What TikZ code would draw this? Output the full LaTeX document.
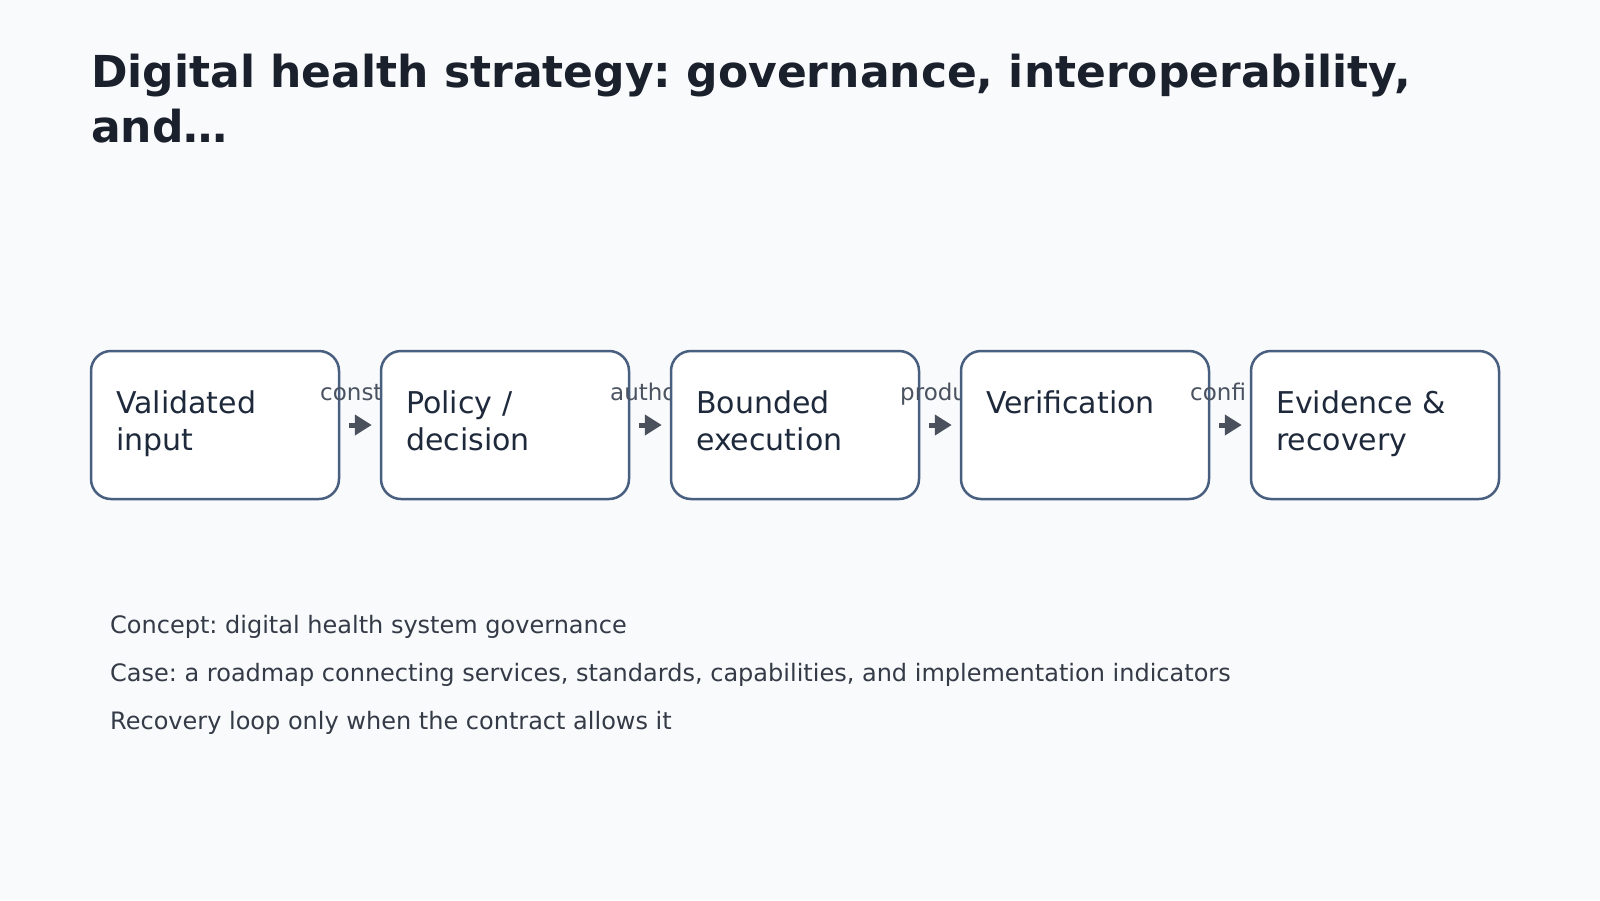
\documentclass[tikz,border=0pt]{standalone}
\usepackage{fontspec}
\setmainfont{DejaVu Sans}
\usetikzlibrary{arrows.meta}
\frenchspacing
\definecolor{bgc}{HTML}{F8FAFC}
\definecolor{titlec}{HTML}{1A202C}
\definecolor{boxline}{HTML}{485F7F}
\definecolor{boxtextc}{HTML}{1E293B}
\definecolor{lblc}{HTML}{4B5361}
\definecolor{arrowc}{HTML}{4A505C}
\definecolor{notec}{HTML}{343B47}
\tikzset{
  stage/.style={draw=boxline, line width=2.5pt, fill=white, rounded corners=20pt,
    minimum width=248pt, minimum height=148pt, inner sep=0pt},
  stagetext/.style={anchor=base west, inner sep=0pt, align=left, text=boxtextc,
    font=\fontsize{30}{37}\selectfont\frenchspacing},
  edgelbl/.style={anchor=base west, inner sep=0pt, text=lblc, font=\fontsize{23}{26}\selectfont},
  flow/.style={draw=arrowc, line width=5pt, -{Triangle[length=17pt,width=20pt]}},
  note/.style={anchor=base west, inner sep=0pt, text=notec, font=\fontsize{24}{28}\selectfont\frenchspacing},
}
\begin{document}
\begin{tikzpicture}[x=1pt,y=-1pt]
\fill[bgc] (0,0) rectangle (1600,900);
\useasboundingbox (0,0) rectangle (1600,900);

\node[anchor=base west, inner sep=0pt, align=left, text=titlec,
  font=\fontsize{44}{55}\selectfont\bfseries\frenchspacing] (title) at (91,142)
  {Digital health strategy: governance, interoperability,\\and…};

\node[stage] (b1) at (215,425) {};
\node[stagetext] (t1) at (116,450) {Validated\\input};
\node[edgelbl] (l1) at (320,400) {const};
\node[stage] (b2) at (505,425) {};
\node[stagetext] (t2) at (406,450) {Policy /\\decision};
\node[edgelbl] (l2) at (610,400) {autho};
\node[stage] (b3) at (795,425) {};
\node[stagetext] (t3) at (696,450) {Bounded\\execution};
\node[edgelbl] (l3) at (900,400) {produ};
\node[stage] (b4) at (1085,425) {};
\node[stagetext] (t4) at (986,413) {Verification};
\node[edgelbl] (l4) at (1190,400) {confi};
\node[stage] (b5) at (1375,425) {};
\node[stagetext] (t5) at (1276,450) {Evidence \&\\recovery};

\draw[flow] ([xshift=9pt]b1.east) -- ([xshift=-8pt]b2.west);
\draw[flow] ([xshift=9pt]b2.east) -- ([xshift=-8pt]b3.west);
\draw[flow] ([xshift=9pt]b3.east) -- ([xshift=-8pt]b4.west);
\draw[flow] ([xshift=9pt]b4.east) -- ([xshift=-8pt]b5.west);

\node[note] (n1) at (110,633) {Concept: digital health system governance};
\node[note] (n2) at (110,681) {Case: a roadmap connecting services, standards, capabilities, and implementation indicators};
\node[note] (n3) at (110,729) {Recovery loop only when the contract allows it};
\end{tikzpicture}
\end{document}
